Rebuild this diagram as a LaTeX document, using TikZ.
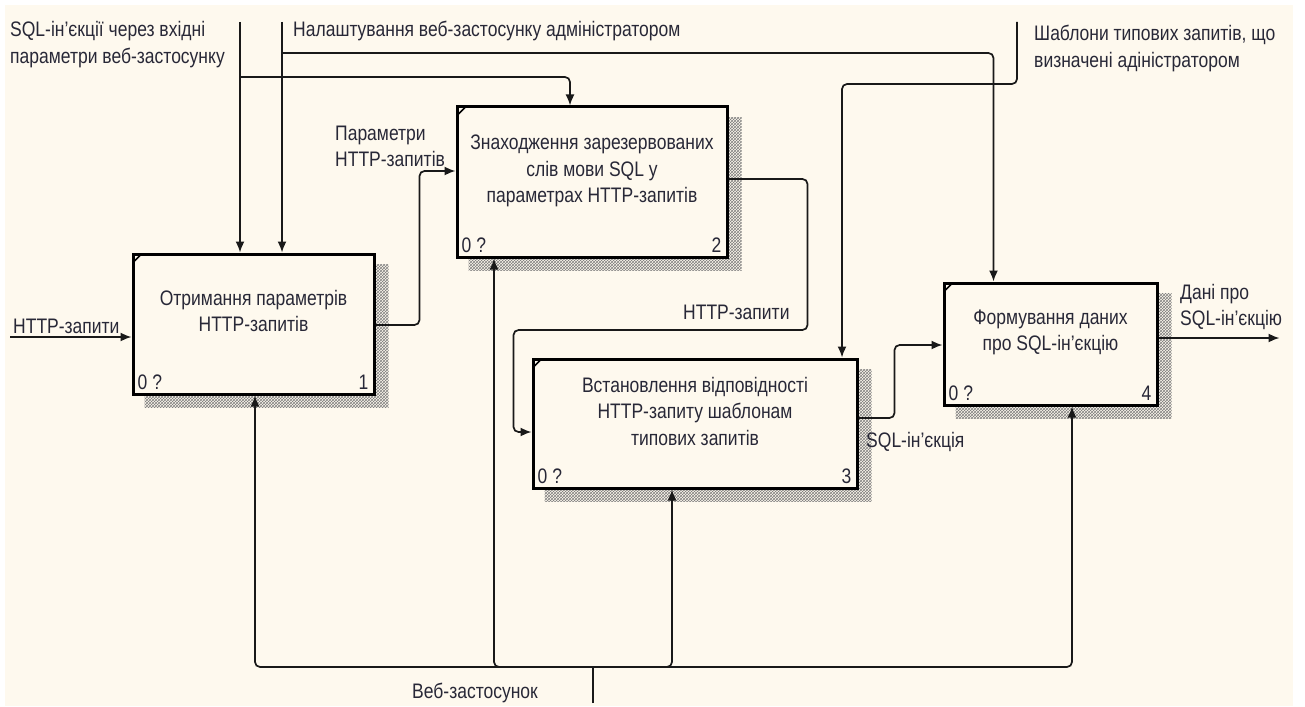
\documentclass[tikz,border=0pt]{standalone}
\usepackage{fontspec}
\setmainfont{Liberation Sans}
\usepackage{graphicx}
\usetikzlibrary{arrows.meta,calc,patterns}
\pgfdeclarelayer{back}
\pgfdeclarelayer{shade}
\pgfsetlayers{back,shade,main}
\definecolor{bgc}{RGB}{254,249,238}
\definecolor{txc}{RGB}{40,40,55}
\definecolor{lnc}{RGB}{25,25,25}
\newcommand\tx[2][c]{\scalebox{1}[1.2]{\begin{tabular}[t]{@{}#1@{}}#2\end{tabular}}}
\tikzset{
  box/.style={draw=black, line width=3pt, fill=bgc, inner sep=0pt},
  lbl/.style={font=\fontsize{17.5}{22}\selectfont, text=txc, inner sep=0pt},
  arr/.style={draw=lnc, line width=1.7pt, rounded corners=5pt, -{Latex[length=11pt,width=9pt]}},
  ln/.style={draw=lnc, line width=1.7pt, rounded corners=5pt},
  shd/.style={pattern=crosshatch, pattern color=gray},
}
\begin{document}
\begin{tikzpicture}[x=1pt,y=-1pt]
\useasboundingbox (0,0) rectangle (1305,706);
\begin{pgfonlayer}{back}
  \fill[white] (0,0) rectangle (1305,706);
  \fill[bgc] (5,5) rectangle (1293,706);
\end{pgfonlayer}

% boxes
\node[box, minimum width=241pt, minimum height=140pt] (b1) at (253.5,324) {};
\node[box, minimum width=270pt, minimum height=150pt] (b2) at (592,182) {};
\node[box, minimum width=324pt, minimum height=129pt] (b3) at (695,423.5) {};
\node[box, minimum width=213pt, minimum height=122pt] (b4) at (1050.5,344) {};

\begin{pgfonlayer}{shade}
  \foreach \b in {b1,b2,b3,b4}{
    \fill[shd] ($(\b.north west)+(13,12)$) rectangle ($(\b.south east)+(13,12)$);
  }
\end{pgfonlayer}

\foreach \b/\n in {b1/1,b2/2,b3/3,b4/4}{
  \draw[black, line width=1.5pt] ($(\b.north west)+(1.5,10)$) -- ($(\b.north west)+(10,1.5)$);
  \node[lbl, anchor=base west] at ($(\b.south west)+(6,-6)$) {\tx{0 ?}};
  \node[lbl, anchor=base east] at ($(\b.south east)+(-7,-6)$) {\tx{\n}};
}

% box texts
\node[lbl] (t1) at ($(b1.center)+(0,-11)$) {\tx{Отримання параметрів\\HTTP-запитів}};
\node[lbl] (t2) at ($(b2.center)+(0,-11)$) {\tx{Знаходження зарезервованих\\слів мови SQL у\\параметрах HTTP-запитів}};
\node[lbl] (t3) at ($(b3.center)+(0,-10)$) {\tx{Встановлення відповідності\\HTTP-запиту шаблонам\\типових запитів}};
\node[lbl] (t4) at ($(b4.center)+(0,-12)$) {\tx{Формування даних\\про SQL-ін’єкцію}};

% free ends
\coordinate (s1) at (240,22);
\coordinate (s2) at (282,22);
\coordinate (s3) at (1017,22);
\coordinate (j1) at (240,77);
\coordinate (j2) at (282,53);
\coordinate (in) at (10,337);
\coordinate (m) at (593,703);
\coordinate (mj) at (593,667);

% controls
\draw[arr] (s1) -- (s1 |- b1.north);
\draw[arr] (s2) -- (s2 |- b1.north);
\draw[arr] (j1) -| ($(b2.north)+(-22,0)$);
\draw[arr] (j2) -| ($(b4.north)+(-57,0)$);
\draw[arr] (s3) -- ++(0,62) -| ($(b3.north)+(147,0)$);

% input
\draw[arr] (in) -- ($(b1.west)+(0,13)$);

% flows
\draw[arr] ($(b1.east)+(0,1)$) -- ++(44,0) |- ($(b2.west)+(0,-11)$);
\draw[arr] ($(b2.east)+(0,-3)$) -- ++(79,0) |- ++(-294,151) |- ($(b3.west)+(0,8.5)$);
\draw[arr] ($(b3.east)+(0,-5.5)$) -- ++(36,0) |- ($(b4.west)+(0,1)$);
\draw[arr] ($(b4.east)+(0,-6)$) -- ++(121,0) coordinate (out);

% mechanism
\draw[ln] (m) -- (mj);
\draw[arr] (mj) -| ($(b1.south)+(1.5,0)$);
\draw[arr] (mj) -| ($(b2.south)+(-98,0)$);
\draw[arr] (mj) -| ($(b3.south)+(-23,0)$);
\draw[arr] (mj) -| ($(b4.south)+(21.5,0)$);

% labels
\node[lbl, anchor=base west] (l1) at (10,37) {\tx[l]{SQL-ін’єкції через вхідні\\параметри веб-застосунку}};
\node[lbl, anchor=base west] (l2) at (293,37) {\tx[l]{Налаштування веб-застосунку адміністратором}};
\node[lbl, anchor=base west] (l3) at (1034,41) {\tx[l]{Шаблони типових запитів, що\\визначені адіністратором}};
\node[lbl, anchor=base west] (l4) at (13,333) {\tx[l]{HTTP-запити}};
\node[lbl, anchor=base west] (l5) at (335,140) {\tx[l]{Параметри\\HTTP-запитів}};
\node[lbl, anchor=base west] (l6) at (683,319) {\tx[l]{HTTP-запити}};
\node[lbl, anchor=base west] (l7) at (866,447) {\tx[l]{SQL-ін’єкція}};
\node[lbl, anchor=base west] (l8) at (1180,299) {\tx[l]{Дані про\\SQL-ін’єкцію}};
\node[lbl, anchor=base west] (l9) at (412,698) {\tx[l]{Веб-застосунок}};
\end{tikzpicture}
\end{document}
